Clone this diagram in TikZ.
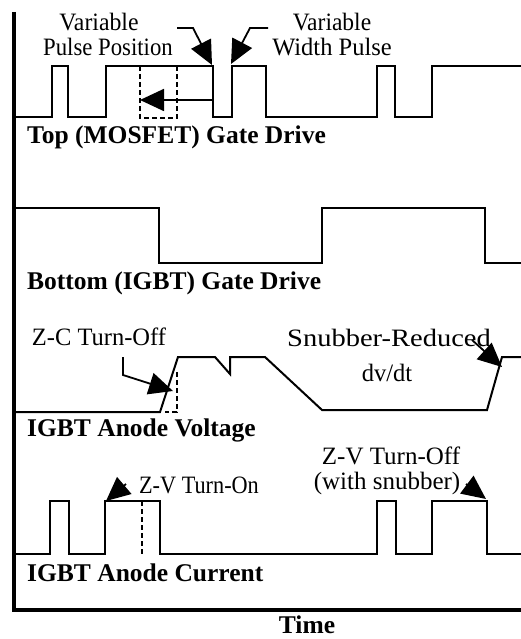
\documentclass[tikz,border=0pt]{standalone}
\usepackage{fontspec}
\setmainfont{Liberation Serif}
\usetikzlibrary{arrows.meta}
\newcommand{\hs}[2]{\scalebox{#1}[1]{#2}}
\tikzset{
  sig/.style={line width=2pt, line join=miter},
  axisline/.style={line width=4pt, line join=miter},
  dsh/.style={line width=1.6pt, dash pattern=on 5pt off 3pt},
  callout/.style={line width=1.8pt, -{Triangle[length=24pt,width=22pt]}},
  lbl/.style={inner sep=0pt, font=\fontsize{25}{28}\selectfont},
  blbl/.style={inner sep=0pt, anchor=west, font=\fontsize{25.5}{28}\selectfont\bfseries},
}
\begin{document}
\begin{tikzpicture}[x=1pt,y=-1pt]
\useasboundingbox (0,0) rectangle (521,639);
% axes
\coordinate (atop) at (14,12);
\coordinate (aorig) at (14,610);
\coordinate (aend) at (521,610);
\draw[axisline] (atop) -- (aorig) -- (aend);
\node[lbl, font=\fontsize{25.5}{28}\selectfont\bfseries] (time) at (307,625) {Time};

% ---- Top gate drive
\draw[sig] (14,117) -- (52,117) -- (52,66) -- (68,66) -- (68,117) -- (106,117) -- (106,66)
  -- (213,66) -- (213,117) -- (232,117) -- (232,66) -- (266,66) -- (266,117)
  -- (377,117) -- (377,66) -- (395,66) -- (395,117) -- (432,117) -- (432,66) -- (521,66);
\draw[dsh] (140,66) -- (140,118) -- (177,118) -- (177,66);
\coordinate (mvfrom) at (213,100);
\coordinate (mvto) at (140,100);
\draw[callout] (mvfrom) -- (mvto);
\node[lbl] (vp1) at (99,22) {\hs{0.95}{Variable}};
\node[lbl] (vp2) at (108,47) {\hs{0.91}{Pulse Position}};
\node[lbl] (vw1) at (332,22) {\hs{0.94}{Variable}};
\node[lbl] (vw2) at (332,47) {\hs{0.98}{Width Pulse}};
\coordinate (c1a) at (177,28);
\coordinate (c1b) at (193,28);
\coordinate (c1t) at (212,65);
\draw[callout] (c1a) -- (c1b) -- (c1t);
\coordinate (c2a) at (268,28);
\coordinate (c2b) at (250,28);
\coordinate (c2t) at (231,64);
\draw[callout] (c2a) -- (c2b) -- (c2t);
\node[blbl] (top) at (27,137) {Top (MOSFET) Gate Drive};

% ---- Bottom gate drive
\draw[sig] (14,208) -- (159,208) -- (159,263) -- (322,263) -- (322,208) -- (485,208) -- (485,263) -- (521,263);
\node[blbl] (bot) at (27,283) {Bottom (IGBT) Gate Drive};

% ---- IGBT anode voltage
\draw[sig] (14,412) -- (160,412) -- (178,357) -- (215,357) -- (230,374) -- (230,357) -- (265,357)
  -- (322,410) -- (487,410) -- (502,357) -- (521,357);
\draw[dsh] (177,372) -- (177,412) -- (165,412);
\node[lbl] (zc) at (99,337) {\hs{0.98}{Z-C Turn-Off}};
\coordinate (c3a) at (123,357);
\coordinate (c3b) at (123,375);
\coordinate (c3t) at (173,391);
\draw[callout] (c3a) -- (c3b) -- (c3t);
\node[lbl] (sn1) at (389,338) {\hs{1.14}{Snubber-Reduced}};
\node[lbl] (sn2) at (387,373) {\hs{0.98}{dv/dt}};
\coordinate (c4a) at (472,340);
\coordinate (c4t) at (502,367);
\draw[callout] (c4a) -- (c4t);
\node[blbl] (volt) at (27,430) {IGBT Anode Voltage};

% ---- IGBT anode current
\draw[sig] (14,554) -- (50,554) -- (50,501) -- (69,501) -- (69,554) -- (105,554) -- (105,501)
  -- (160,501) -- (160,554) -- (377,554) -- (377,501) -- (396,501) -- (396,554)
  -- (432,554) -- (432,501) -- (487,501) -- (487,554) -- (521,554);
\draw[dsh] (142,501) -- (142,554);
\node[lbl] (zvon) at (199,485) {\hs{0.89}{Z-V Turn-On}};
\coordinate (c5a) at (126,484);
\coordinate (c5t) at (106,501);
\draw[callout] (c5a) -- (c5t);
\node[lbl] (zvoff1) at (391,456) {Z-V Turn-Off};
\node[lbl] (zvoff2) at (387,483) {(with snubber)};
\coordinate (c6a) at (466,484);
\coordinate (c6t) at (486,499);
\draw[callout] (c6a) -- (c6t);
\node[blbl] (cur) at (27,573) {IGBT Anode Current};
\end{tikzpicture}
\end{document}
